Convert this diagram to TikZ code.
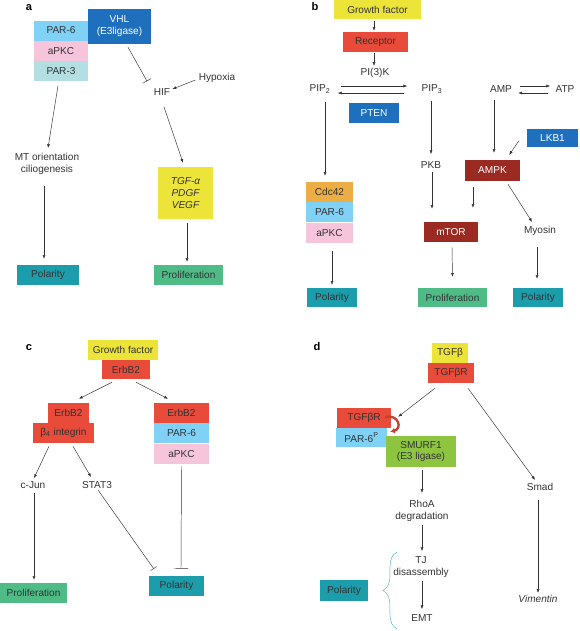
\documentclass[tikz,border=0pt]{standalone}
\usepackage{fontspec}
\setmainfont{Liberation Sans}
\usetikzlibrary{positioning,calc,arrows.meta,decorations.pathreplacing}
\newlength{\unitpx}
\setlength{\unitpx}{0.03cm}
\newcommand{\figfont}{\fontsize{8.6}{10.2}\selectfont}
\definecolor{txt}{HTML}{333333}
\definecolor{yel}{HTML}{EDE43A}
\definecolor{redbox}{HTML}{E84B3A}
\definecolor{darkred}{HTML}{9B2B22}
\definecolor{bluebox}{HTML}{1F6FBF}
\definecolor{lightblue}{HTML}{7FD2F6}
\definecolor{pinkbox}{HTML}{F6C5DC}
\definecolor{paleteal}{HTML}{B3DFE3}
\definecolor{tealbox}{HTML}{1B9DAB}
\definecolor{greenbox}{HTML}{4FBC88}
\definecolor{orangebox}{HTML}{EBAD44}
\definecolor{limebox}{HTML}{8DC540}
\definecolor{bracecol}{HTML}{4DB6BF}
\tikzset{
  box/.style={rectangle, inner sep=0pt, align=center, text=txt,
    minimum width=#1\unitpx, minimum height=20\unitpx},
  lbl/.style={inner sep=1pt, align=center, text=txt},
  arr/.style={draw=txt, -{Latex[length=3.2pt,width=2.6pt]}},
  inh/.style={draw=txt, -{Bar[width=#1]}},
  panel/.style={font=\fontsize{9.5}{11}\selectfont\bfseries, text=black},
}
\begin{document}
\begin{tikzpicture}[x=0.03cm, y=-0.03cm, font=\figfont]
        \useasboundingbox (0,0) rectangle (580,631);
        % Draw panel a
        \node[panel] (la) at (29,8) {a};
        \node[box=54, fill=lightblue] (par6a) at (61,30.5) {PAR-6};
        \node[box=54, fill=pinkbox, below=0pt of par6a] (apkca) {aPKC};
        \node[box=54, fill=paleteal, below=0pt of apkca] (par3a) {PAR-3};
        \node[box=63, minimum height=35\unitpx, fill=bluebox, text=white] (vhl) at (119.5,26.5) {VHL\\(E3ligase)};
        \node[lbl] (hif) at (162,92) {HIF};
        \node[lbl] (hypoxia) at (217,78) {Hypoxia};
        \node[lbl] (mt) at (47,164) {MT orientation\\ciliogenesis};
        \node[box=55, minimum height=52\unitpx, fill=yel, font=\figfont\itshape] (tgfa) at (185.5,193) {TGF-α\\PDGF\\VEGF};
        \node[box=62, fill=tealbox] (pola) at (48,275) {Polarity};
        \node[box=69, fill=greenbox] (prola) at (188.5,275) {Proliferation};
        % Draw panel a connectors
        \draw[arr] ($(par3a.south)+(-3,4)$) -- ($(mt.north)+(1,-4)$);
        \draw[arr] ($(mt.south)+(-3,10)$) -- ($(pola.north)+(-4,-6)$);
        \draw[inh=8pt] ($(vhl.south)+(8.5,3)$) -- ($(hif.north)+(-15,-6)$);
        \draw[arr] ($(hypoxia.west)+(-2,2)$) -- ($(hif.east)+(1,-3)$);
        \draw[arr] ($(hif.south)+(2,10)$) -- ($(tgfa.north)+(-2.5,-4)$);
        \draw[arr] ($(tgfa.south)+(1.5,4)$) -- ($(prola.north)+(-1.5,-3)$);
        % Draw panel b
        \node[panel] (lb) at (315,7) {b};
        \node[box=87, minimum height=19\unitpx, fill=yel] (gfb) at (377.5,9.5) {Growth factor};
        \node[box=65, fill=redbox] (rec) at (375.5,42) {Receptor};
        \node[lbl] (pi3k) at (375,73) {PI(3)K};
        \node[lbl] (pip2) at (320,89) {PIP\textsubscript{2}};
        \node[lbl] (pip3) at (432,89) {PIP\textsubscript{3}};
        \node[box=50, fill=bluebox, text=white] (pten) at (374,113) {PTEN};
        \node[lbl] (amp) at (501,89) {AMP};
        \node[lbl] (atp) at (565,89) {ATP};
        \node[box=51, minimum height=18\unitpx, fill=bluebox, text=white] (lkb1) at (552.5,138) {LKB1};
        \node[lbl] (pkb) at (431,165) {PKB};
        \node[box=55, minimum height=21\unitpx, fill=darkred, text=white] (ampk) at (492.5,170.5) {AMPK};
        \node[box=47, fill=orangebox] (cdc42) at (329.5,192) {Cdc42};
        \node[box=47, fill=lightblue, below=0pt of cdc42] (par6b) {PAR-6};
        \node[box=47, fill=pinkbox, below=0pt of par6b] (apkcb) {aPKC};
        \node[box=54, fill=darkred, text=white] (mtor) at (451,232) {mTOR};
        \node[lbl] (myosin) at (540,231) {Myosin};
        \node[box=50, minimum height=19\unitpx, fill=tealbox] (polb1) at (332,297.5) {Polarity};
        \node[box=69, minimum height=19\unitpx, fill=greenbox] (prolb) at (452.5,297.5) {Proliferation};
        \node[box=50, minimum height=19\unitpx, fill=tealbox] (polb2) at (538,297.5) {Polarity};
        % Draw panel b connectors
        \draw[arr] ($(gfb.south)+(-3.5,2)$) -- ($(rec.north)+(-1.5,-1)$);
        \draw[arr] ($(rec.south)+(-1.5,1)$) -- ($(pi3k.north)+(-1,-1)$);
        \draw[arr] ($(pip2.east)+(9,-3)$) -- ($(pip3.west)+(-13,-3)$);
        \draw[arr] ($(pip3.west)+(-16,4)$) -- ($(pip2.east)+(6,4)$);
        \draw[arr] ($(amp.east)+(7,-3)$) -- ($(atp.west)+(-4,-3)$);
        \draw[arr] ($(atp.west)+(-6,4)$) -- ($(amp.east)+(5,4)$);
        \draw[arr] ($(pip2.south)+(5,7)$) -- ($(cdc42.north)+(-4.5,-6)$);
        \draw[arr] ($(pip3.south)+(-1,6)$) -- ($(pkb.north)+(0,-6)$);
        \draw[arr] ($(amp.south)+(-7,6)$) -- ($(ampk.north)+(1.5,-7)$);
        \draw[arr] ($(lkb1.west)+(-8,3)$) -- ($(ampk.north east)+(-11,-5)$);
        \draw[arr] ($(pkb.south)+(1,2)$) -- ($(pkb.south |- mtor.north)+(1,-13)$);
        \draw[arr] ($(ampk.south)+(-19.5,6)$) -- ($(mtor.north)+(22,-14)$);
        \draw[arr] ($(ampk.south)+(15.5,3)$) -- ($(myosin.north)+(-8,-3)$);
        \draw[arr] ($(apkcb.south)+(2.5,8)$) -- ($(polb1.north)+(0,-3)$);
        \draw[arr] ($(mtor.south)+(1,5)$) -- ($(prolb.north)+(0,-11)$);
        \draw[arr] ($(myosin.south)+(-3,10)$) -- ($(polb2.north)+(-1,-9)$);
        % Draw panel c
        \node[panel] (lc) at (29,348) {c};
        \node[box=70, fill=yel] (gfc) at (123,350) {Growth factor};
        \node[box=48, minimum height=19\unitpx, fill=redbox] (erbc) at (126,369.5) {ErbB2};
        \node[box=41, fill=redbox] (erbl) at (68.5,413) {ErbB2};
        \node[box=61, fill=redbox] (b4) at (63.5,433) {β\textsubscript{4} integrin};
        \node[box=55, fill=redbox] (erbr) at (181.5,413) {ErbB2};
        \node[box=55, fill=lightblue, below=0pt of erbr] (par6c) {PAR-6};
        \node[box=55, fill=pinkbox, below=0pt of par6c] (apkcc) {aPKC};
        \node[lbl] (cjun) at (33,485) {c-Jun};
        \node[lbl] (stat3) at (97,485) {STAT3};
        \node[box=67, fill=greenbox] (prolc) at (33.5,593) {Proliferation};
        \node[box=55, fill=tealbox] (polc) at (176.5,586) {Polarity};
        % Draw panel c connectors
        \draw[arr] ($(erbc.south)+(-14,3)$) -- ($(erbl.north)+(10.5,-4)$);
        \draw[arr] ($(erbc.south)+(10,3)$) -- ($(erbr.north)+(-13.5,-4)$);
        \draw[arr] ($(b4.south)+(-14.5,3)$) -- ($(cjun.north)+(1,-2)$);
        \draw[arr] ($(b4.south)+(9.5,3)$) -- ($(stat3.north)+(-6,-3)$);
        \draw[arr] ($(cjun.south)+(1,3)$) -- ($(prolc.north)+(0.5,-3)$);
        \draw[inh=6pt] ($(stat3.south)+(1,0)$) -- ($(polc.north west)+(5,-7)$);
        \draw[inh=12pt] ($(apkcc.south)+(0,2)$) -- ($(polc.north)+(4.5,-7)$);
        % Draw panel d
        \node[panel] (ld) at (317,347) {d};
        \node[box=36, fill=yel] (tgfb) at (450,353) {TGFβ};
        \node[box=46, fill=redbox] (tgfbr) at (451,373) {TGFβR};
        \node[box=54, fill=redbox] (tgfbr2) at (364,418) {TGFβR};
        \node[box=51, minimum height=19\unitpx, fill=lightblue] (par6d) at (361.5,437.5) {PAR-6\textsuperscript{P}};
        \node[box=70, minimum height=31\unitpx, fill=limebox] (smurf) at (421,451.5) {SMURF1\\(E3 ligase)};
        \node[lbl] (smad) at (540,487) {Smad};
        \node[lbl] (rhoa) at (422,511) {RhoA\\degradation};
        \node[lbl] (tj) at (421,567) {TJ\\disassembly};
        \node[lbl] (emt) at (422,618) {EMT};
        \node[box=48, minimum height=21\unitpx, fill=tealbox] (pold) at (344,590.5) {Polarity};
        \node[lbl, font=\figfont\itshape] (vim) at (538,599) {Vimentin};
        % Draw panel d connectors
        \draw[arr] ($(tgfbr.south)+(-16,5)$) -- ($(tgfbr2.north east)+(7,9)$);
        \draw[arr] ($(tgfbr.south)+(17,5)$) -- ($(smad.north)+(-5,-2)$);
        \draw[line width=2pt, redbox!85!black, -{Latex[length=4pt,width=5pt]}]
          ($(tgfbr2.east)+(-6,-1)$) .. controls +(14,-3) and +(12,-3) .. ($(par6d.north east)+(3,4)$);
        \draw[arr] ($(smurf.south)+(1,3)$) -- ($(rhoa.north)+(0,-6)$);
        \draw[arr] ($(rhoa.south)+(0,2)$) -- ($(tj.north)+(1,-4)$);
        \draw[arr] ($(tj.south)+(1,2.5)$) -- ($(emt.north)+(0,-4)$);
        \draw[arr] ($(smad.south)+(-2,8)$) -- ($(vim.north)+(0,-1)$);
        % Draw brace grouping polarity steps
        \draw[bracecol, decorate, decoration={brace, amplitude=12pt}]
          ($(emt.south)+(-25,6)$) -- ($(tj.north)+(-24,-3)$);
    \end{tikzpicture}
\end{document}
